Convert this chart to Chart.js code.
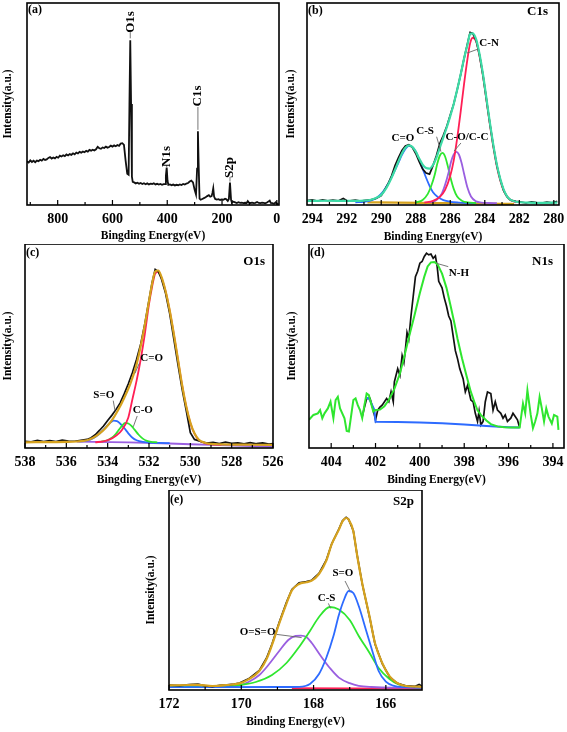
<!DOCTYPE html>
<html>
<head>
<meta charset="utf-8">
<script src="https://cdn.jsdelivr.net/npm/chart.js@4.4.1/dist/chart.umd.min.js"></script>
<style>
    html, body { margin: 0; padding: 0; background: #fff; }
    body { width: 567px; height: 732px; position: relative; overflow: hidden; }
    canvas { position: absolute; }
</style>
</head>
<body>
<canvas id="chartA" width="285" height="245" style="left:0px;top:0px"></canvas>
<canvas id="chartB" width="283" height="245" style="left:284px;top:0px"></canvas>
<canvas id="chartC" width="285" height="245" style="left:0px;top:244px"></canvas>
<canvas id="chartD" width="283" height="245" style="left:284px;top:244px"></canvas>
<canvas id="chartE" width="290" height="242" style="left:140px;top:490px"></canvas>
<script>
/*Tick labels*/
var A_TICKS = [800, 600, 400, 200, 0];
var B_TICKS = [294, 292, 290, 288, 286, 284, 282, 280];
var C_TICKS = [538, 536, 534, 532, 530, 528, 526];
var D_TICKS = [404, 402, 400, 398, 396, 394];
var E_TICKS = [172, 170, 168, 166];

/*(a) survey*/
var A_SURVEY_X = [912, 906, 900, 894, 888, 882, 876, 870, 864, 858, 852, 846, 840, 834, 828, 822, 816, 810, 804, 798,
    792, 786, 780, 774, 768, 762, 756, 750, 744, 738, 732, 726, 720, 714, 708, 702, 696, 690, 684, 678,
    672, 666, 660, 654, 648, 642, 636, 630, 624, 618, 612, 606, 600, 594, 588, 582, 576, 570, 564,
    558, 552, 546, 541, 538, 535, 532, 529, 526, 521, 515, 509, 503, 497, 491, 485, 479, 473, 467, 461,
    455, 449, 443, 437, 431, 425, 419, 413, 408, 405, 402, 399, 396, 390, 384, 378, 372, 366, 360, 354,
    348, 342, 336, 330, 324, 318, 312, 306, 300, 295, 291, 288, 285, 282, 278, 272, 266, 260, 254, 248,
    243, 238, 235, 232, 229, 225, 219, 213, 207, 201, 195, 189, 184, 179, 175, 171, 167, 164, 158, 152,
    146, 140, 134, 128, 122, 116, 110, 106, 102, 96, 90, 84, 78, 72, 66, 60, 54, 48, 42, 36,
    30, 26, 22, 16, 10, 4, -2, -6];
var A_SURVEY_Y = [21.6, 21.0, 22.1, 21.3, 21.9, 21.2, 22.0, 21.7, 22.4, 22.0, 22.8, 22.3, 22.6, 23.3, 23.7, 23.0, 23.5, 23.1, 23.8, 23.4,
    24.4, 24.0, 24.6, 24.2, 25.0, 24.5, 25.2, 24.8, 25.6, 25.1, 25.9, 25.5, 26.3, 25.9, 26.5, 26.1, 26.8, 26.4, 27.3, 26.9,
    27.4, 27.0, 27.6, 28.8, 28.1, 27.8, 28.5, 28.2, 28.9, 28.4, 28.7, 29.4, 28.9, 29.5, 29.1, 29.7, 29.3, 30.4, 30.6,
    29.8, 22.0, 15.5, 15.0, 50.0, 81.5, 50.0, 14.0, 11.5, 11.2, 10.7, 11.0, 10.5, 10.9, 10.4, 10.8, 10.3, 10.7, 10.2, 10.6,
    10.4, 10.8, 10.2, 10.5, 10.1, 10.4, 10.0, 10.3, 10.4, 14.5, 18.5, 12.0, 10.0, 10.2, 9.8, 10.1, 9.7, 10.0, 9.8, 10.2,
    9.9, 10.4, 10.1, 10.6, 10.9, 11.6, 12.1, 11.2, 7.5, 5.2, 18.0, 36.5, 18.0, 3.2, 2.6, 3.0, 3.4, 3.8, 4.4, 4.9,
    4.1, 4.4, 6.0, 8.3, 4.2, 3.0, 2.7, 2.9, 2.5, 2.8, 2.6, 3.1, 2.8, 2.0, 3.0, 11.1, 2.5, 1.2, 1.6, 1.3,
    1.0, 1.4, 1.1, 1.2, 0.9, 1.1, 1.0, 1.9, 1.2, 1.0, 1.2, 0.9, 1.1, 1.5, 1.0, 0.9, 1.2, 1.0, 0.8, 1.2,
    1.8, 2.2, 1.0, 0.9, 0.6, 1.3, 0.4, 0.8];

/*(b) C1s*/
var B_RAW_X = [294.3, 294.0, 293.7, 293.4, 293.1, 292.8, 292.5, 292.2, 292.0, 291.8, 291.5, 291.2, 290.9, 290.6, 290.3,
    290.0, 289.8, 289.6, 289.4, 289.2, 289.0, 288.8, 288.6, 288.4, 288.2, 288.0, 287.8, 287.6, 287.4, 287.2,
    287.0, 286.8, 286.6, 286.4, 286.2, 286.0, 285.8, 285.6, 285.4, 285.2, 285.0, 284.85, 284.7, 284.5, 284.3,
    284.1, 283.9, 283.7, 283.5, 283.3, 283.1, 282.9, 282.7, 282.5, 282.2, 281.9, 281.6, 281.3, 281.0, 280.7,
    280.4, 280.1, 279.8];
var B_RAW_Y = [2.2, 2.6, 2.0, 2.5, 2.1, 2.4, 2.0, 3.2, 2.2, 2.0, 2.4, 1.9, 2.3, 2.6, 3.3,
    4.6, 7.5, 10.5, 14.5, 19.5, 23.5, 27.0, 29.2, 29.8, 28.5, 25.5, 21.5, 17.8, 15.8, 15.3,
    19.5, 24.5, 30.5, 34.5, 39.0, 44.5, 50.0, 57.0, 64.5, 72.5, 80.0, 85.5, 85.0, 81.5, 74.0,
    64.0, 52.0, 40.0, 29.0, 19.5, 12.5, 7.0, 4.0, 2.4, 1.8, 1.4, 1.0, 1.6, 1.2, 1.0,
    1.4, 1.1, 1.8];
var B_FIT_X = [294.3, 293.0, 292.0, 291.0, 290.6, 290.3, 290.0, 289.7, 289.4, 289.1, 288.8, 288.6, 288.4, 288.2, 288.0,
    287.8, 287.6, 287.4, 287.2, 287.0, 286.8, 286.6, 286.4, 286.2, 286.0, 285.8, 285.6, 285.4, 285.2, 285.0,
    284.85, 284.7, 284.5, 284.3, 284.1, 283.9, 283.7, 283.5, 283.3, 283.1, 282.9, 282.7, 282.5, 282.2, 281.5,
    280.5, 279.8];
var B_FIT_Y = [2.0, 2.1, 2.0, 2.2, 2.6, 3.5, 5.0, 8.5, 13.5, 19.5, 25.5, 28.3, 29.5, 28.8, 26.5,
    23.0, 20.0, 18.3, 18.0, 19.8, 23.5, 28.5, 33.5, 38.5, 44.0, 50.0, 57.0, 64.5, 72.5, 79.5,
    84.8, 85.0, 82.0, 74.5, 64.5, 52.5, 40.5, 29.5, 20.0, 12.8, 7.5, 4.2, 2.5, 1.6, 1.2,
    1.1, 1.2];
var B_CO_X = [291.5, 291.0, 290.5, 290.2, 289.9, 289.6, 289.3, 289.0, 288.8, 288.6, 288.4, 288.2, 288.0, 287.8, 287.6,
    287.4, 287.2, 287.0, 286.7, 286.4, 286.0, 285.5, 285.0, 284.5];
var B_CO_Y = [1.3, 1.6, 2.5, 4.0, 6.5, 10.5, 15.5, 21.0, 24.8, 27.8, 29.3, 28.8, 26.5, 22.5, 18.0,
    13.5, 9.5, 6.3, 3.8, 2.4, 1.6, 1.2, 1.0, 0.9];
var B_CS_X = [288.0, 287.6, 287.3, 287.1, 286.9, 286.75, 286.6, 286.45, 286.3, 286.15, 286.0, 285.8, 285.6, 285.3, 285.0, 284.5];
var B_CS_Y = [1.2, 2.5, 5.5, 9.5, 15.0, 20.5, 24.5, 25.8, 24.0, 19.5, 14.0, 8.0, 4.2, 2.0, 1.3, 1.0];
var B_COCC_X = [287.2, 286.8, 286.5, 286.3, 286.1, 285.95, 285.8, 285.65, 285.5, 285.35, 285.2, 285.0, 284.8, 284.5, 284.2, 283.8, 283.3];
var B_COCC_Y = [1.2, 2.5, 5.5, 10.0, 16.0, 21.5, 25.0, 26.3, 25.0, 21.0, 15.5, 8.5, 4.2, 1.8, 1.2, 1.0, 0.9];
var B_CN_X = [287.5, 287.0, 286.6, 286.3, 286.0, 285.8, 285.6, 285.4, 285.2, 285.0, 284.85, 284.7, 284.5, 284.3, 284.1,
    283.9, 283.7, 283.5, 283.3, 283.1, 282.9, 282.6, 282.2];
var B_CN_Y = [1.2, 2.0, 4.0, 7.5, 14.5, 22.0, 33.0, 46.0, 60.0, 72.5, 80.0, 82.8, 81.0, 73.5, 63.5,
    51.5, 39.5, 28.5, 19.0, 12.0, 7.0, 3.0, 1.3];
var B_BG_X = [290.8, 289.0, 287.0, 285.0, 283.0, 282.3];
var B_BG_Y = [1.3, 1.2, 1.0, 0.8, 0.6, 0.5];

/*(c) O1s*/
var C_RAW_X = [538.0, 537.7, 537.4, 537.1, 536.8, 536.5, 536.2, 535.9, 535.6, 535.3, 535.0, 534.8, 534.6, 534.4, 534.2,
    534.0, 533.8, 533.6, 533.4, 533.2, 533.0, 532.8, 532.6, 532.4, 532.2, 532.0, 531.85, 531.7, 531.55, 531.4,
    531.2, 531.0, 530.8, 530.6, 530.4, 530.2, 530.0, 529.8, 529.5, 529.2, 528.9, 528.6, 528.3, 528.0, 527.7,
    527.4, 527.1, 526.8, 526.5, 526.2, 526.0];
var C_RAW_Y = [3.3, 3.0, 3.8, 3.2, 3.6, 3.1, 3.9, 3.4, 3.3, 3.8, 4.2, 5.0, 6.5, 8.6, 10.8,
    13.5, 16.0, 18.8, 22.0, 26.5, 31.5, 37.0, 43.5, 51.0, 61.0, 72.5, 81.0, 87.5, 86.5, 83.0,
    76.0, 66.0, 53.5, 41.0, 29.0, 18.5, 7.5, 4.2, 3.2, 2.4, 2.8, 2.2, 2.9, 2.3, 2.5,
    2.0, 2.6, 2.1, 2.5, 1.9, 2.2];
var C_FIT_X = [538.0, 537.0, 536.0, 535.5, 535.0, 534.7, 534.4, 534.1, 533.8, 533.5, 533.2, 532.9, 532.6, 532.3, 532.0,
    531.85, 531.7, 531.55, 531.4, 531.2, 531.0, 530.8, 530.6, 530.4, 530.2, 530.0, 529.8, 529.6, 529.3, 529.0,
    528.5, 528.0, 527.0, 526.0];
var C_FIT_Y = [2.8, 2.9, 3.0, 3.2, 3.8, 5.0, 7.0, 9.8, 13.5, 18.5, 24.5, 31.5, 41.0, 55.0, 72.0,
    80.5, 86.5, 87.0, 84.0, 77.0, 67.5, 56.0, 43.5, 31.0, 20.5, 12.5, 7.2, 4.2, 2.6, 2.0,
    1.8, 1.7, 1.6, 1.5];
var C_CdO_X = [534.6, 534.2, 533.9, 533.6, 533.3, 533.0, 532.8, 532.6, 532.4, 532.2, 532.0, 531.85, 531.7, 531.55, 531.4,
    531.2, 531.0, 530.8, 530.6, 530.4, 530.2, 530.0, 529.8, 529.6, 529.3, 529.0, 528.5];
var C_CdO_Y = [2.8, 3.3, 4.2, 6.0, 9.0, 15.0, 24.0, 33.0, 43.5, 56.0, 70.5, 79.0, 85.5, 86.5, 83.5,
    76.8, 67.3, 55.8, 43.3, 30.8, 20.3, 12.3, 7.0, 4.0, 2.4, 1.8, 1.6];
var C_SdO_X = [535.4, 535.0, 534.7, 534.4, 534.2, 534.0, 533.85, 533.7, 533.55, 533.4, 533.2, 533.0, 532.8, 532.6, 532.3, 532.0, 531.5, 531.0];
var C_SdO_Y = [3.2, 3.6, 4.8, 7.0, 9.0, 11.2, 12.6, 13.4, 13.2, 12.0, 9.8, 7.2, 5.0, 3.8, 3.0, 2.7, 2.5, 2.4];
var C_CO_X = [534.3, 534.0, 533.8, 533.6, 533.45, 533.3, 533.15, 533.0, 532.85, 532.7, 532.5, 532.3, 532.1, 531.9, 531.6];
var C_CO_Y = [3.2, 3.8, 5.0, 7.0, 9.0, 11.0, 12.3, 12.0, 10.8, 9.0, 6.5, 4.6, 3.5, 3.0, 2.8];
var C_BG_X = [535.5, 533.0, 531.0, 529.0, 527.0, 526.0];
var C_BG_Y = [3.1, 2.8, 2.2, 1.5, 0.9, 0.7];

/*(d) N1s*/
var D_FIT_X = [405.0, 404.8, 404.6, 404.5, 404.4, 404.3, 404.15, 404.03, 403.9, 403.8, 403.7, 403.6, 403.4, 403.3, 403.2,
    403.0, 402.9, 402.8, 402.7, 402.6, 402.5, 402.4, 402.3, 402.2, 402.1, 402.0,
    401.8, 401.6, 401.4, 401.15, 400.9, 400.7, 400.5, 400.25, 400.0, 399.8, 399.65, 399.5, 399.35, 399.2, 399.0,
    398.8, 398.6, 398.45, 398.3, 398.1, 397.9, 397.7, 397.55, 397.4, 397.25, 397.0, 396.8, 396.5, 396.2, 395.9, 395.5,
    395.35, 395.25, 395.15, 395.0, 394.9, 394.8, 394.7, 394.6, 394.5, 394.4, 394.3, 394.2, 394.05, 393.95, 393.8, 393.75];
var D_FIT_Y = [13.8, 16.2, 17.0, 18.6, 14.6, 17.0, 19.4, 22.7, 14.6, 23.5, 25.1, 19.4, 14.6, 8.4, 8.1,
    23.5, 24.3, 21.0, 18.6, 14.6, 21.0, 26.7, 25.9, 21.8, 17.8, 18.6,
    18.8, 20.5, 23.5, 29.0, 36.5, 45.0, 54.0, 64.7, 76.0, 84.0, 89.0, 91.0, 91.2, 90.0, 85.5,
    78.5, 69.0, 61.5, 53.4, 44.0, 35.6, 27.5, 22.7, 18.5, 16.2, 13.5, 11.7, 10.6, 10.2, 10.0, 10.0,
    21.8, 17.0, 28.3, 16.2, 9.7, 13.0, 17.0, 25.0, 19.4, 13.0, 19.4, 15.4, 12.0, 16.2, 15.4, 8.9];
var D_RAW_X = [402.6, 402.5, 402.4, 402.25, 402.1, 402.0, 401.9, 401.8, 401.7, 401.5, 401.4, 401.3, 401.2, 401.15, 401.0,
    400.9, 400.8, 400.72, 400.65, 400.58, 400.5, 400.4, 400.3, 400.2, 400.1, 400.0, 399.9, 399.8, 399.7, 399.6,
    399.5, 399.4, 399.3, 399.22, 399.15, 399.0, 398.9, 398.8, 398.7, 398.6, 398.5, 398.4, 398.3, 398.2, 398.05,
    397.95, 397.85, 397.7, 397.6, 397.5, 397.4, 397.33, 397.25, 397.15, 397.05, 396.95, 396.8, 396.7, 396.6, 396.5,
    396.35, 396.25, 396.15, 396.05, 395.9, 395.8, 395.7, 395.6, 395.5];
var D_RAW_Y = [15.4, 20.0, 24.3, 24.3, 18.6, 13.8, 18.6, 20.0, 21.0, 24.3, 22.7, 27.5, 22.7, 32.4, 38.8,
    35.6, 45.3, 42.0, 48.5, 56.6, 53.4, 64.7, 74.4, 84.0, 86.6, 90.6, 91.4, 93.9, 95.5, 94.7,
    95.1, 93.0, 94.2, 89.0, 81.7, 78.5, 73.6, 69.6, 64.7, 62.3, 55.0, 47.7, 43.7, 38.8, 34.0,
    27.5, 30.7, 23.5, 22.7, 17.0, 13.0, 18.1, 11.3, 13.0, 22.7, 27.5, 26.7, 18.6, 22.7, 18.6,
    17.0, 14.6, 16.2, 13.0, 14.6, 17.0, 15.4, 13.8, 10.0];
var D_BG_X = [402.45, 402.3, 402.15, 402.05, 402.0, 401.0, 400.0, 399.0, 398.0, 397.0, 396.0, 395.5];
var D_BG_Y = [24.6, 24.3, 21.0, 18.6, 12.9, 12.8, 12.5, 12.1, 11.5, 10.8, 10.2, 10.0];

/*(e) S2p*/
var E_RAW_X = [172.0, 171.7, 171.45, 171.2, 171.0, 170.8, 170.6, 170.4, 170.2, 170.05, 169.8, 169.5, 169.3, 169.15, 168.95,
    168.75, 168.6, 168.4, 168.2, 168.05, 167.85, 167.65, 167.5, 167.3, 167.2, 167.1, 167.03, 166.9, 166.8, 166.65,
    166.45, 166.3, 166.1, 165.9, 165.7, 165.45, 165.2, 165.08, 165.0];
var E_RAW_Y = [2.4, 2.2, 2.7, 2.9, 2.1, 1.7, 2.3, 2.6, 2.9, 3.5, 5.6, 9.8, 16.0, 23.0, 33.8,
    43.8, 50.3, 53.6, 54.2, 54.9, 58.3, 64.9, 73.0, 80.5, 84.6, 86.3, 85.3, 79.6, 68.0, 52.8,
    36.4, 23.0, 13.2, 6.7, 3.5, 2.1, 1.8, 2.8, 1.9];
var E_FIT_X = [172.0, 171.45, 171.2, 170.8, 170.4, 170.05, 169.8, 169.5, 169.3, 169.15, 168.95, 168.75, 168.6, 168.4, 168.2,
    168.05, 167.85, 167.65, 167.5, 167.3, 167.2, 167.1, 167.03, 166.9, 166.8, 166.65, 166.45, 166.3, 166.1, 165.9,
    165.7, 165.45, 165.0];
var E_FIT_Y = [2.3, 2.5, 2.6, 2.0, 2.5, 3.3, 5.3, 9.5, 15.5, 22.5, 33.3, 43.2, 49.8, 53.0, 53.9,
    54.7, 58.0, 64.6, 72.8, 80.2, 84.3, 86.0, 85.2, 79.4, 67.9, 53.0, 36.6, 23.4, 13.5, 6.9,
    3.6, 2.0, 1.6];
var E_OSO_X = [171.0, 170.5, 170.05, 169.8, 169.5, 169.25, 168.95, 168.7, 168.5, 168.35, 168.2, 168.05, 167.8, 167.55, 167.3,
    167.0, 166.75, 166.4, 165.8, 165.0];
var E_OSO_Y = [1.4, 1.6, 2.3, 4.0, 7.5, 12.5, 19.5, 25.0, 27.0, 27.2, 26.5, 23.5, 17.0, 11.0, 6.2,
    3.4, 2.1, 1.5, 1.2, 1.2];
var E_CS_X = [172.0, 170.5, 170.05, 169.6, 169.15, 168.75, 168.4, 168.1, 167.85, 167.55, 167.3, 167.0, 166.75, 166.45, 166.2,
    165.9, 165.65, 165.35, 165.0];
var E_CS_Y = [1.6, 1.8, 2.5, 4.0, 7.5, 13.5, 21.5, 29.5, 36.5, 41.5, 40.2, 35.0, 27.0, 18.5, 11.0,
    5.5, 2.8, 1.6, 1.3];
var E_SO_X = [172.0, 169.0, 168.4, 168.1, 167.85, 167.65, 167.45, 167.3, 167.15, 167.03, 166.9, 166.75, 166.55, 166.35, 166.2,
    166.0, 165.8, 165.45, 165.0];
var E_SO_Y = [1.4, 1.5, 1.6, 3.0, 8.0, 16.0, 27.0, 37.5, 45.5, 49.5, 48.5, 42.0, 30.0, 18.0, 9.5,
    4.2, 2.2, 1.4, 1.2];
var E_BG_X = [168.6, 167.0, 165.0];
var E_BG_Y = [0.9, 0.8, 0.7];

/*Colours*/
var BLACK = '#111111';
var MINT = '#3ddba6';
var GREEN = '#2fe62f';
var BLUE = '#2d6bff';
var RED = '#ff1f55';
var PURPLE = '#9a5fe0';
var GOLD = '#d6a21e';
var FONT = '"Liberation Serif", "Times New Roman", serif';

/*Pair x and y arrays into points*/
function series(xs, ys) {
    return xs.map(function(x, i) { return { x: x, y: ys[i] }; });
}
function line(xs, ys, color, width, smooth) {
    return {
        data: series(xs, ys),
        borderColor: color,
        borderWidth: width,
        pointRadius: 0,
        fill: false,
        cubicInterpolationMode: smooth ? 'monotone' : 'default',
        tension: 0
    };
}

/*Frame, inward ticks, panel tags and peak notes*/
var DECOR = {};
var panelDecor = {
    id: 'panelDecor',
    afterDraw: function(chart) {
        var opts = DECOR[chart.canvas.id];
        var ctx = chart.ctx, area = chart.chartArea;
        var sx = chart.scales.x, sy = chart.scales.y;
        ctx.save();
        ctx.strokeStyle = '#000';
        ctx.lineWidth = 1.6;
        ctx.strokeRect(area.left, area.top, area.right - area.left, area.bottom - area.top);

        var majors = sx.ticks.map(function(t) { return t.value; });
        var step = Math.abs(majors[1] - majors[0]);
        var lo = Math.min(sx.min, sx.max), hi = Math.max(sx.min, sx.max);
        var minors = {};
        majors.forEach(function(v) {
            [v - step / 2, v + step / 2].forEach(function(m) {
                if (m > lo + 1e-6 && m < hi - 1e-6) minors[m.toFixed(4)] = m;
            });
        });
        ctx.lineWidth = 1.2;
        ctx.beginPath();
        majors.forEach(function(v) {
            var px = sx.getPixelForValue(v);
            ctx.moveTo(px, area.bottom);
            ctx.lineTo(px, area.bottom - 5);
        });
        Object.keys(minors).forEach(function(k) {
            var px = sx.getPixelForValue(minors[k]);
            ctx.moveTo(px, area.bottom);
            ctx.lineTo(px, area.bottom - 3);
        });
        ctx.stroke();

        ctx.fillStyle = '#000';
        ctx.textBaseline = 'middle';
        ctx.textAlign = 'left';
        ctx.font = 'bold 12px ' + FONT;
        ctx.fillText(opts.tag, area.left + 1, area.top + opts.tagDy);
        if (opts.element) {
            ctx.textAlign = 'right';
            ctx.font = 'bold 13px ' + FONT;
            ctx.fillText(opts.element, area.right - opts.elemDx, area.top + opts.elemDy);
        }

        opts.notes.forEach(function(n) {
            if (n.line) {
                ctx.strokeStyle = '#666';
                ctx.lineWidth = 0.9;
                ctx.beginPath();
                ctx.moveTo(sx.getPixelForValue(n.line[0]), sy.getPixelForValue(n.line[1]));
                ctx.lineTo(sx.getPixelForValue(n.line[2]), sy.getPixelForValue(n.line[3]));
                ctx.stroke();
            }
            var px = sx.getPixelForValue(n.x), py = sy.getPixelForValue(n.y);
            ctx.textAlign = 'center';
            ctx.fillStyle = '#000';
            if (n.rot) {
                ctx.font = 'bold 13px ' + FONT;
                ctx.save();
                ctx.translate(px, py);
                ctx.rotate(-Math.PI / 2);
                ctx.fillText(n.text, 0, 0);
                ctx.restore();
            } else {
                ctx.font = 'bold 11px ' + FONT;
                ctx.fillText(n.text, px, py);
            }
        });
        ctx.restore();
    }
};

/*Build one panel*/
function buildPanel(id, cfg) {
    DECOR[id] = cfg.decor;
    var canvas = document.getElementById(id);
    return new Chart(canvas.getContext('2d'), {
        type: 'line',
        data: { datasets: cfg.datasets },
        options: {
            responsive: false,
            animation: false,
            events: [],
            layout: { padding: cfg.pad },
            plugins: { legend: { display: false }, tooltip: { enabled: false } },
            scales: {
                x: {
                    type: 'linear',
                    reverse: true,
                    min: cfg.xMin,
                    max: cfg.xMax,
                    afterBuildTicks: function(s) {
                        s.ticks = cfg.ticks.map(function(v) { return { value: v }; });
                    },
                    afterFit: function(s) {
                        s.height = cfg.xH;
                        s.paddingLeft = 0;
                        s.paddingRight = 0;
                    },
                    grid: { display: false, drawTicks: false },
                    border: { display: false },
                    ticks: { color: '#000', padding: 6, maxRotation: 0, autoSkip: false,
                             font: { family: FONT, size: 14, weight: 'bold' } },
                    title: { display: true, text: cfg.xTitle, color: '#000',
                             padding: { top: 0, bottom: cfg.xTitlePad },
                             font: { family: FONT, size: 11.5, weight: 'bold' } }
                },
                y: {
                    min: 0,
                    max: 100,
                    afterFit: function(s) {
                        s.width = cfg.yW;
                        s.paddingTop = 0;
                        s.paddingBottom = 0;
                    },
                    grid: { display: false, drawTicks: false },
                    border: { display: false },
                    ticks: { display: false },
                    title: { display: true, text: 'Intensity(a.u.)', color: '#000',
                             padding: { top: cfg.yTitlePad, bottom: 0 },
                             font: { family: FONT, size: 11.5, weight: 'bold' } }
                }
            }
        },
        plugins: [panelDecor]
    });
}

/*(a) Survey*/
buildPanel('chartA', {
    xMin: -8, xMax: 912, ticks: A_TICKS,
    pad: { left: 0, top: 3, right: 6, bottom: 0 }, yW: 27, xH: 40,
    xTitle: 'Bingding Energy(eV)', xTitlePad: 2, yTitlePad: 1,
    datasets: [ line(A_SURVEY_X, A_SURVEY_Y, BLACK, 1.8, false) ],
    decor: {
        tag: '(a)', tagDy: 7, element: '',
        notes: [
            { text: 'O1s', x: 535, y: 90.6, rot: true, line: [535, 85.6, 535, 82.5] },
            { text: 'N1s', x: 402, y: 24.0, rot: true, line: [402, 19.8, 402, 18.8] },
            { text: 'C1s', x: 288, y: 54.0, rot: true, line: [288, 48.5, 288, 37.2] },
            { text: 'S2p', x: 171, y: 18.6, rot: true, line: [171, 13.9, 171, 11.6] }
        ]
    }
});

/*(b) C1s*/
buildPanel('chartB', {
    xMin: 279.7, xMax: 294.3, ticks: B_TICKS,
    pad: { left: 0, top: 3, right: 8, bottom: 0 }, yW: 23, xH: 40,
    xTitle: 'Binding Energy(eV)', xTitlePad: 1, yTitlePad: 0,
    datasets: [
        line(B_FIT_X, B_FIT_Y, MINT, 2.2, true),
        line(B_RAW_X, B_RAW_Y, BLACK, 1.7, false),
        line(B_CN_X, B_CN_Y, RED, 1.8, true),
        line(B_COCC_X, B_COCC_Y, PURPLE, 1.8, true),
        line(B_CS_X, B_CS_Y, GREEN, 1.8, true),
        line(B_CO_X, B_CO_Y, BLUE, 1.8, true),
        line(B_BG_X, B_BG_Y, GOLD, 2.2, true)
    ],
    decor: {
        tag: '(b)', tagDy: 8, element: 'C1s', elemDx: 11, elemDy: 9,
        notes: [
            { text: 'C-N', x: 283.75, y: 80.2, line: [285.03, 75.2, 284.39, 77.2] },
            { text: 'C=O', x: 288.74, y: 33.3 },
            { text: 'C-S', x: 287.46, y: 36.6, line: [286.79, 33.8, 286.54, 26.4] },
            { text: 'C-O/C-C', x: 285.03, y: 33.7, line: [285.38, 30.7, 285.78, 26.7] }
        ]
    }
});

/*(c) O1s*/
buildPanel('chartC', {
    xMin: 526, xMax: 538, ticks: C_TICKS,
    pad: { left: 0, top: 0, right: 12, bottom: 0 }, yW: 25, xH: 41,
    xTitle: 'Bingding Energy(eV)', xTitlePad: 2, yTitlePad: 1,
    datasets: [
        line(C_FIT_X, C_FIT_Y, GOLD, 2.2, true),
        line(C_RAW_X, C_RAW_Y, BLACK, 1.7, false),
        line(C_CdO_X, C_CdO_Y, RED, 1.8, true),
        line(C_CO_X, C_CO_Y, GREEN, 1.8, true),
        line(C_SdO_X, C_SdO_Y, BLUE, 1.8, true),
        line(C_BG_X, C_BG_Y, PURPLE, 1.8, true)
    ],
    decor: {
        tag: '(c)', tagDy: 9, element: 'O1s', elemDx: 8, elemDy: 18,
        notes: [
            { text: 'C=O', x: 531.87, y: 44.0, line: [532.47, 41.5, 532.68, 36.6] },
            { text: 'S=O', x: 534.19, y: 26.0, line: [533.73, 23.2, 533.65, 18.6] },
            { text: 'C-O', x: 532.3, y: 18.6, line: [532.57, 15.7, 532.76, 10.4] }
        ]
    }
});

/*(d) N1s*/
buildPanel('chartD', {
    xMin: 393.5, xMax: 405, ticks: D_TICKS,
    pad: { left: 0, top: 0, right: 3, bottom: 0 }, yW: 25, xH: 41,
    xTitle: 'Binding Energy(eV)', xTitlePad: 2, yTitlePad: 1,
    datasets: [
        line(D_FIT_X, D_FIT_Y, GREEN, 2, false),
        line(D_BG_X, D_BG_Y, BLUE, 2, false),
        line(D_RAW_X, D_RAW_Y, BLACK, 1.7, false)
    ],
    decor: {
        tag: '(d)', tagDy: 9, element: 'N1s', elemDx: 11, elemDy: 18,
        notes: [
            { text: 'N-H', x: 398.24, y: 85.6, line: [399.24, 90.5, 398.72, 88.9] }
        ]
    }
});

/*(e) S2p*/
buildPanel('chartE', {
    xMin: 165, xMax: 172, ticks: E_TICKS,
    pad: { left: 0, top: 0, right: 8, bottom: 0 }, yW: 29, xH: 42,
    xTitle: 'Binding Energy(eV)', xTitlePad: 3, yTitlePad: 4,
    datasets: [
        line(E_FIT_X, E_FIT_Y, GOLD, 2.2, true),
        line(E_RAW_X, E_RAW_Y, BLACK, 1.7, false),
        line(E_SO_X, E_SO_Y, BLUE, 1.8, true),
        line(E_CS_X, E_CS_Y, GREEN, 1.8, true),
        line(E_OSO_X, E_OSO_Y, PURPLE, 1.8, true),
        line(E_BG_X, E_BG_Y, RED, 1.8, false)
    ],
    decor: {
        tag: '(e)', tagDy: 10, element: 'S2p', elemDx: 8, elemDy: 12,
        notes: [
            { text: 'S=O', x: 167.19, y: 58.3, line: [167.13, 54.5, 166.99, 49.5] },
            { text: 'C-S', x: 167.64, y: 45.8, line: [167.59, 43.3, 167.53, 40.8] },
            { text: 'O=S=O', x: 169.55, y: 28.8, line: [169.02, 27.8, 168.33, 26.2] }
        ]
    }
});
</script>
</body>
</html>
